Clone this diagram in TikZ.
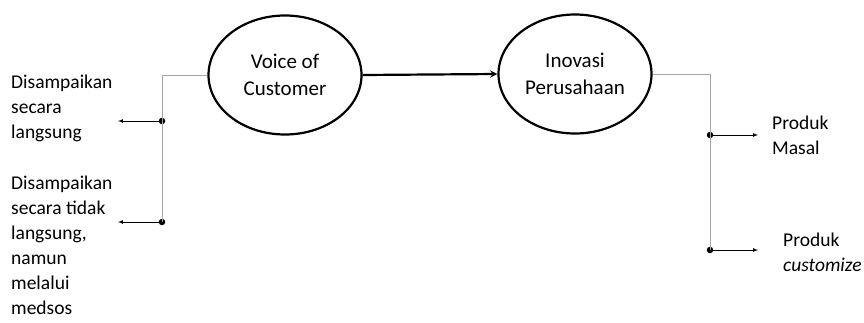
\documentclass[tikz,border=0pt]{standalone}
\usepackage{fontspec}
\setmainfont{Carlito}
\usetikzlibrary{shapes,arrows,positioning}
\tikzstyle{bubble} = [ellipse, draw=black, line width=2.2pt, minimum width=153pt, minimum height=119pt, align=center, font=\fontsize{21}{27}\selectfont]
\tikzstyle{label} = [inner sep=0pt, anchor=north west, align=left, font=\fontsize{19.5}{25}\selectfont]
\tikzstyle{branch} = [draw=black!35, line width=0.8pt]
\tikzstyle{dot} = [circle, fill=black, inner sep=0pt, minimum size=6.5pt]
\tikzstyle{arrow} = [thick,->,>=stealth]
\tikzstyle{smallarrow} = [line width=0.7pt,->,>=latex]

\begin{document}
\begin{tikzpicture}[x=1pt,y=-1pt]
	\useasboundingbox (0,0) rectangle (864,322);
	\node (voc) [bubble] at (285,75) {Voice of\\Customer};
	\node (ino) [bubble] at (575,74) {Inovasi\\Perusahaan};
	\draw [arrow, line width=2.2pt] (voc.east) -- (ino.west);
	% left branch
	\coordinate (lturn) at (162,75);
	\node (ldot1) [dot] at (162,121) {};
	\node (ldot2) [dot] at (162,222) {};
	\coordinate (lend1) at (118,121);
	\coordinate (lend2) at (118,222);
	\draw [branch] (voc.west) -- (lturn) -- (ldot2.center);
	\draw [smallarrow] (ldot1) -- (lend1);
	\draw [smallarrow] (ldot2) -- (lend2);
	\node (direct) [label] at (11,75) {Disampaikan\\secara\\langsung};
	\node (indirect) [label] at (11,176) {Disampaikan\\secara tidak\\langsung,\\namun\\melalui\\medsos};
	% right branch
	\coordinate (rturn) at (710,74);
	\node (rdot1) [dot] at (710,135) {};
	\node (rdot2) [dot] at (710,250) {};
	\coordinate (rend1) at (758,135);
	\coordinate (rend2) at (758,250);
	\draw [branch] (ino.east) -- (rturn) -- (rdot2.center);
	\draw [smallarrow] (rdot1) -- (rend1);
	\draw [smallarrow] (rdot2) -- (rend2);
	\node (masal) [label] at (772,116) {Produk\\Masal};
	\node (custom) [label] at (783,233) {Produk\\\textit{customize}};
\end{tikzpicture}
\end{document}
